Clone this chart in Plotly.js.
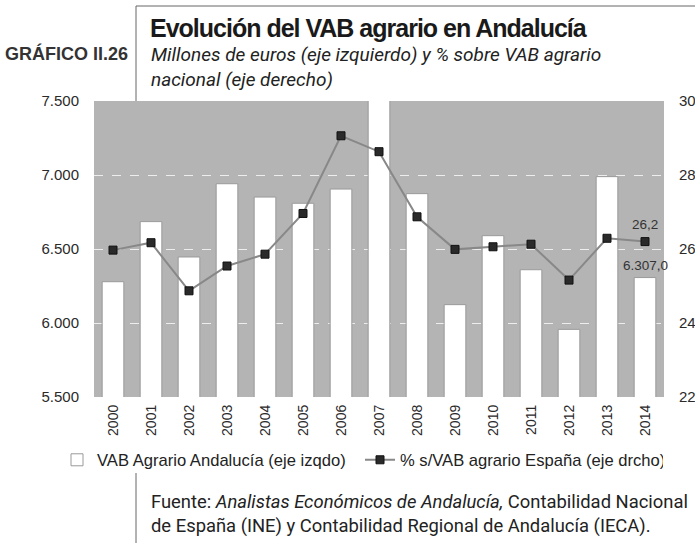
<!DOCTYPE html>
<html><head><meta charset="utf-8">
<script src="https://cdn.plot.ly/plotly-3.0.1.min.js"></script>
<style>
html,body{margin:0;padding:0;background:#fff;}
#chart{width:695px;height:543px;}
g.annotation[data-index="0"] text{letter-spacing:-1px;}
</style></head><body><div id="chart"></div>
<script>
const years = [2000,2001,2002,2003,2004,2005,2006,2007,2008,2009,2010,2011,2012,2013,2014];
const yearLabels = ['2000','2001','2002','2003','2004','2005','2006','2007','2008','2009','2010','2011','2012','2013','2014'];
const vabAndalucia = [6279,6685,6446,6941,6851,6809,6905,7700,6874,6124,6590,6360,5957,6989,6307];
const pctEspana = [25.97,26.17,24.87,25.54,25.86,26.96,29.06,28.63,26.87,25.99,26.06,26.13,25.16,26.29,26.2];
const leftTicks = [5500,6000,6500,7000,7500];
const leftLabels = ['5.500','6.000','6.500','7.000','7.500'];
const rightTicks = [22,24,26,28,30];
const rightLabels = ['22','24','26','28','30'];
const lastVabLabel = '6.307,0';
const lastPctLabel = '26,2';

const PL = 94, PR = 664, PT = 101, PB = 397;
const px2x = px => (px - PL) / (PR - PL);
const py2y = py => (PB - py) / (PB - PT);
const cond = 'Roboto, Liberation Sans, sans-serif';
const sans = 'Liberation Sans, Arial, sans-serif';

const traces = [
  {type:'bar', x: years, y: vabAndalucia, name:'VAB Agrario Andalucía (eje izqdo)',
   marker:{color:'#ffffff', line:{color:'#9a9a9a', width:1}}, yaxis:'y'},
  {type:'scatter', mode:'lines+markers', x: years, y: pctEspana, yaxis:'y2',
   name:'% s/VAB agrario España (eje drcho)',
   line:{color:'#888888', width:2},
   marker:{symbol:'square', size:8, color:'#2a2a2a', line:{color:'#111111', width:1}}}
];

const last = years.length - 1;
const layout = {
  width:695, height:543,
  margin:{l:PL, r:695-PR, t:PT, b:543-PB, pad:0},
  paper_bgcolor:'#ffffff', plot_bgcolor:'#b4b4b4',
  bargap:0.43,
  showlegend:true,
  font:{family:sans, size:15, color:'#2a2a2a'},
  xaxis:{range:[years[0]-0.5, years[last]+0.5], tickvals:years, ticktext:yearLabels,
         tickangle:-90, ticks:'', showline:false, showgrid:false, zeroline:false,
         ticklabelstandoff:4, tickfont:{family:sans, size:14, color:'#2a2a2a'}},
  yaxis:{range:[5500,7500], tickvals:leftTicks, ticktext:leftLabels, showgrid:true,
         gridcolor:'#ededed', griddash:'dash', gridwidth:1, zeroline:false, showline:false,
         ticks:'', ticklabelstandoff:14, tickfont:{family:sans, size:15, color:'#2a2a2a'}},
  yaxis2:{range:[22,30], tickvals:rightTicks, ticktext:rightLabels, overlaying:'y', side:'right',
          showgrid:false, zeroline:false, showline:false, ticks:'', ticklabelstandoff:14,
          tickfont:{family:sans, size:15, color:'#2a2a2a'}},
  legend:{orientation:'h', x:px2x(57), y:py2y(460), xanchor:'left', yanchor:'middle',
          entrywidth:258, font:{family:sans, size:16.6, color:'#222222'},
          bgcolor:'rgba(0,0,0,0)', traceorder:'normal'},
  shapes:[
    {type:'line', xref:'paper', yref:'paper', x0:px2x(136), x1:px2x(136), y0:py2y(6), y1:py2y(101), line:{color:'#666', width:1}},
    {type:'line', xref:'paper', yref:'paper', x0:px2x(136), x1:px2x(695), y0:py2y(6), y1:py2y(6), line:{color:'#666', width:1}},
    {type:'line', xref:'paper', yref:'paper', x0:px2x(136), x1:px2x(136), y0:py2y(473), y1:py2y(543), line:{color:'#666', width:1}}
  ],
  annotations:[
    {text:'Evolución del VAB agrario en Andalucía', xref:'paper', yref:'paper', x:px2x(129), y:py2y(28),
     xanchor:'left', yanchor:'middle', showarrow:false, font:{family:sans, size:25, color:'#1a1a1a', weight:700}},
    {text:'<i>Millones de euros (eje izquierdo) y % sobre VAB agrario<br>nacional (eje derecho)</i>', xref:'paper', yref:'paper', x:px2x(149), y:py2y(66.5),
     xanchor:'left', yanchor:'middle', align:'left', showarrow:false, font:{family:cond, size:19, color:'#222'}},
    {text:'GRÁFICO II.26', xref:'paper', yref:'paper', x:px2x(3), y:py2y(53),
     xanchor:'left', yanchor:'middle', showarrow:false, font:{family:sans, size:18, color:'#333', weight:700}},
    {text:lastPctLabel, x:years[last], y:pctEspana[last], xref:'x', yref:'y2', yshift:17, showarrow:false,
     font:{family:sans, size:13.5, color:'#333'}},
    {text:lastVabLabel, x:years[last], y:vabAndalucia[last], xref:'x', yref:'y', yshift:12, showarrow:false,
     font:{family:sans, size:13.5, color:'#333'}},
    {text:'Fuente: <i>Analistas Económicos de Andalucía,</i> Contabilidad Nacional<br>de España (INE) y Contabilidad Regional de Andalucía (IECA).', xref:'paper', yref:'paper', x:px2x(149), y:py2y(513.5),
     xanchor:'left', yanchor:'middle', align:'left', showarrow:false, font:{family:cond, size:18.4, color:'#222'}}
  ]
};
Plotly.newPlot('chart', traces, layout, {displayModeBar:false, staticPlot:true});
</script></body></html>
